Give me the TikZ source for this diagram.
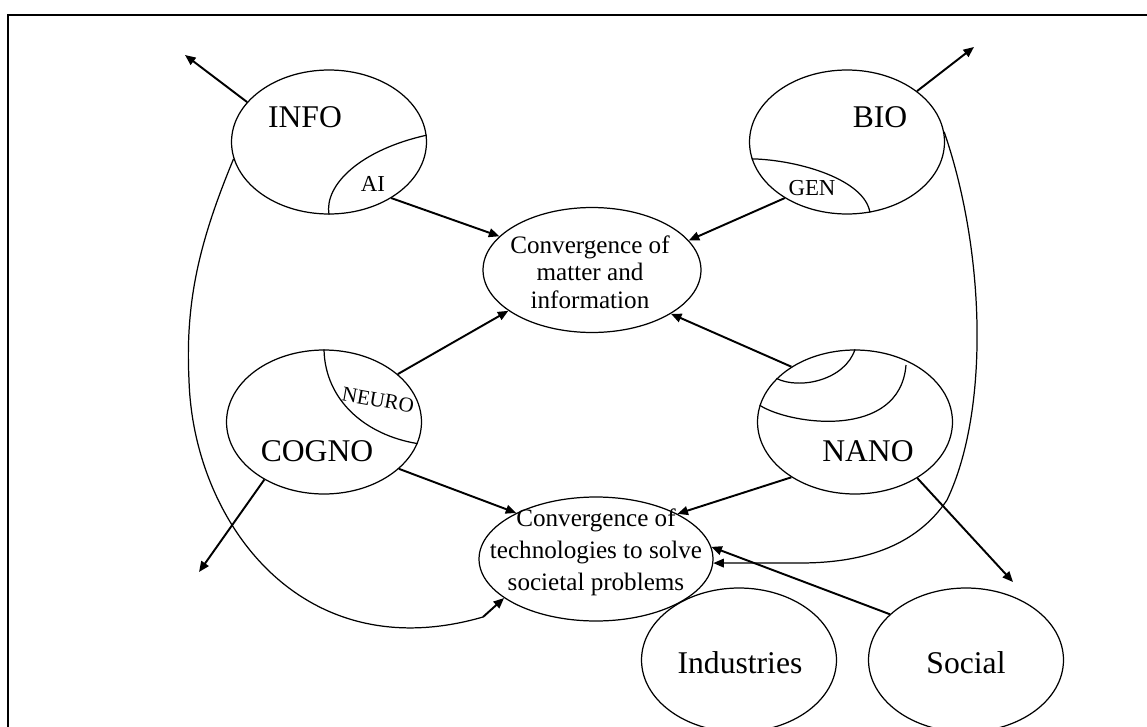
\documentclass[tikz,border=0pt]{standalone}
\usepackage{fontspec}
\setmainfont{Liberation Serif}
\usetikzlibrary{shapes.geometric, arrows.meta}

\begin{document}
\begin{tikzpicture}[
    x=0.02cm, y=-0.02cm,
    field/.style={draw, ellipse, line width=0.7pt, minimum width=3.9cm, minimum height=2.88cm, inner sep=0pt},
    hub/.style={draw, ellipse, line width=0.7pt, inner sep=0pt},
    hubtext/.style={align=center, inner sep=0pt},
    biglbl/.style={anchor=base, font=\fontsize{18}{20}\selectfont},
    sublbl/.style={anchor=base, font=\fontsize{13}{15}\selectfont},
    subarc/.style={line width=0.7pt},
    arrow/.style={-{Triangle[length=6pt, width=5pt]}, line width=1.1pt}
]
    \clip (0,0) rectangle (1147,727);
    % frame
    \draw[line width=1.7pt] (8,15) rectangle (1200,800);

    % the four fields
    \node[field] (info) at (329,142) {};
    \node[field] (bio) at (847,142) {};
    \node[field] (cogno) at (324,422) {};
    \node[field] (nano) at (855,422) {};
    \node[biglbl] (infolbl) at (305,127) {INFO};
    \node[biglbl] (biolbl) at (880,127) {BIO};
    \node[biglbl] (cognolbl) at (317,461) {COGNO};
    \node[biglbl] (nanolbl) at (868,461) {NANO};

    % sub-fields
    \draw[subarc] (info.south) .. controls (324,185) and (360,150) .. (info.4);
    \node[sublbl] (ailbl) at (373,191) {AI};
    \draw[subarc] (bio.190) .. controls (800,160) and (865,180) .. (bio.288);
    \node[sublbl] (genlbl) at (812,195) {GEN};
    \draw[subarc] (cogno.north) .. controls (325,400) and (365,435) .. (cogno.347);
    \node[font=\fontsize{12}{14}\selectfont, rotate=-10] (neurolbl) at (378,400) {NEURO};
    \draw[subarc] (nano.151) .. controls (800,390) and (845,380) .. (nano.north);
    \draw[subarc] (nano.170) .. controls (790,425) and (900,440) .. (906,365);

    % convergence
    \node[hub, minimum width=4.36cm, minimum height=2.5cm] (conv1) at (592,270) {};
    \node[hubtext, font=\fontsize{14.3}{15.6}\selectfont] (conv1lbl) at (590,272) {Convergence of\\matter and\\information};
    \node[hub, minimum width=4.68cm, minimum height=2.48cm] (conv2) at (596,559) {};
    \node[hubtext, font=\fontsize{14.3}{18.2}\selectfont] (conv2lbl) at (596,552) {Convergence of\\technologies to solve\\societal problems};

    % society
    \node[field] (ind) at (739,660) {};
    \node[field] (soc) at (966,660) {};
    \node[biglbl] (indlbl) at (740,673) {Industries};
    \node[biglbl] (soclbl) at (966,673) {Social};

    % outward arrows
    \coordinate (infoout) at (185,55);
    \coordinate (bioout) at (974,47);
    \coordinate (cognoout) at (199,572);
    \coordinate (nanoout) at (1013,582);
    \draw[arrow] (info.154) -- (infoout);
    \draw[arrow] (bio.36) -- (bioout);
    \draw[arrow] (cogno.224) -- (cognoout);
    \draw[arrow] (nano.318) -- (nanoout);

    % arrows into the convergence ellipses
    \draw[arrow] (info.318) -- (conv1.160);
    \draw[arrow] (bio.222) -- (conv1.17);
    \draw[arrow] (cogno.33) -- (conv1.206);
    \draw[arrow] (nano.139) -- (conv1.331);
    \draw[arrow] (cogno.328) -- (conv2.150);
    \draw[arrow] (nano.221) -- (conv2.29);
    \draw[arrow] (soc.149) -- (conv2.6);

    % long loops
    \coordinate (infoend) at (483,617);
    \draw[subarc] (info.190) .. controls (200,240) and (185,300) .. (189,380)
        .. controls (193,520) and (300,670) .. (infoend);
    \draw[arrow] (infoend) -- (conv2.203);
    \draw[subarc, -{Triangle[length=6pt, width=5pt]}] (bio.6) .. controls (985,250) and (990,410) .. (947,500)
        .. controls (915,548) and (860,563) .. (800,563) -- (conv2.358);
\end{tikzpicture}
\end{document}
